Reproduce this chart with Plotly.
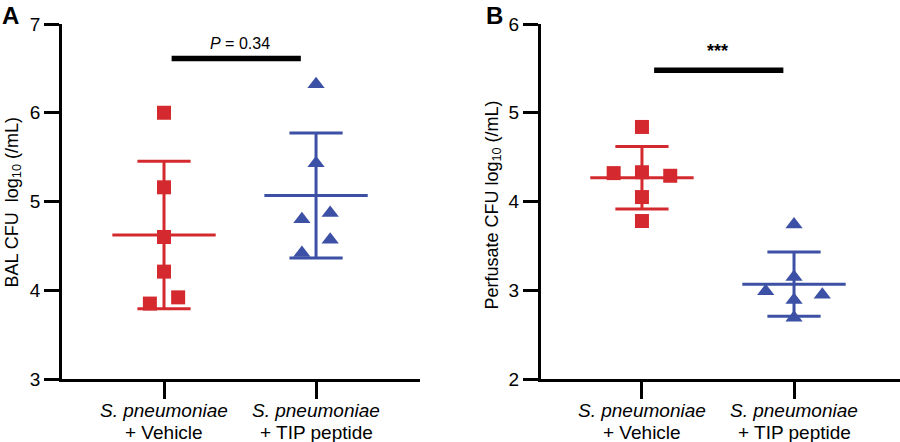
import numpy as np
import plotly.graph_objects as go

# ---------------- data ----------------
category_species = ["S. pneumoniae", "S. pneumoniae"]
category_treatment = ["+ Vehicle", "+ TIP peptide"]

# Panel A: BAL CFU log10 (/mL)
a_vehicle = [6.00, 5.16, 4.60, 4.21, 3.85, 3.92]
a_vehicle_jit = [0, 0, 0, 0, -1, 1]
a_tip = [6.32, 5.43, 4.80, 4.87, 4.57, 4.42]
a_tip_jit = [0, 0, -1, 1, 1, -1]
a_pvalue = "<i>P</i> = 0.34"
a_bar_y = 6.61

# Panel B: Perfusate CFU log10 (/mL)
b_vehicle = [4.84, 4.32, 4.33, 4.29, 4.05, 3.78]
b_vehicle_jit = [0, -2, 0, 2, 0, 0]
b_tip = [3.74, 3.15, 2.99, 2.95, 2.89, 2.69]
b_tip_jit = [0, 0, -2, 2, 0, 0]
b_sig = "***"
b_bar_y = 5.48

a_yticks = [3, 4, 5, 6, 7]
b_yticks = [2, 3, 4, 5, 6]

# ---------------- style ----------------
RED = "#d42a2f"
BLUE = "#3c50a5"
FONT = "Liberation Sans, Arial, sans-serif"
JIT = 0.093          # jitter step in category units
MEAN_HW = 0.34       # half-width of mean line
SD_HW = 0.175        # half-width of SD caps
LW = 3
H = 442

fig = go.Figure()


def add_group(xaxis, yaxis, xc, vals, jit, color, symbol, size):
    vals = np.array(vals, dtype=float)
    m = vals.mean()
    sd = vals.std(ddof=1)
    xs = [xc + j * JIT for j in jit]
    common = dict(xaxis=xaxis, yaxis=yaxis, showlegend=False, hoverinfo="skip")
    fig.add_trace(go.Scatter(x=[xc, xc], y=[m - sd, m + sd], mode="lines",
                             line=dict(color=color, width=LW), **common))
    for yv in (m - sd, m + sd):
        fig.add_trace(go.Scatter(x=[xc - SD_HW, xc + SD_HW], y=[yv, yv], mode="lines",
                                 line=dict(color=color, width=LW), **common))
    fig.add_trace(go.Scatter(x=[xc - MEAN_HW, xc + MEAN_HW], y=[m, m], mode="lines",
                             line=dict(color=color, width=LW), **common))
    fig.add_trace(go.Scatter(x=xs, y=vals, mode="markers",
                             marker=dict(color=color, symbol=symbol, size=size,
                                         line=dict(width=0)), **common))


add_group("x", "y", 0, a_vehicle, a_vehicle_jit, RED, "square", 14)
add_group("x", "y", 1, a_tip, a_tip_jit, BLUE, "triangle-up", 15)
add_group("x2", "y2", 0, b_vehicle, b_vehicle_jit, RED, "square", 14)
add_group("x2", "y2", 1, b_tip, b_tip_jit, BLUE, "triangle-up", 15)

fig.add_trace(go.Scatter(x=[0.05, 0.9], y=[a_bar_y, a_bar_y], mode="lines", xaxis="x", yaxis="y",
                         line=dict(color="black", width=5.5), showlegend=False, hoverinfo="skip"))
fig.add_trace(go.Scatter(x=[0.08, 0.93], y=[b_bar_y, b_bar_y], mode="lines", xaxis="x2", yaxis="y2",
                         line=dict(color="black", width=5.5), showlegend=False, hoverinfo="skip"))

axis_common = dict(showgrid=False, zeroline=False, showline=True, linecolor="black",
                   linewidth=LW, ticks="outside", tickcolor="black", tickwidth=LW,
                   automargin=False,
                   tickfont=dict(family=FONT, size=19, color="black"))

annotations = [
    dict(text="BAL CFU  log<sub>10</sub> (/mL)", textangle=-90, xref="paper", yref="paper",
         x=0, xanchor="left", y=1 - 203 / H, showarrow=False,
         font=dict(family=FONT, size=18, color="black")),
    dict(text="Perfusate CFU log<sub>10</sub> (/mL)", textangle=-90, xref="paper", yref="paper",
         x=479 / 900, xanchor="left", y=1 - 205 / H, showarrow=False,
         font=dict(family=FONT, size=18, color="black")),
    dict(text="<b>A</b>", xref="paper", yref="paper", x=0, y=1, xanchor="left", yanchor="top",
         showarrow=False, font=dict(family=FONT, size=24, color="black")),
    dict(text="<b>B</b>", xref="paper", yref="paper", x=484 / 900, y=1, xanchor="left",
         yanchor="top", showarrow=False, font=dict(family=FONT, size=24, color="black")),
    dict(text=a_pvalue, xref="x", yref="y", x=0.5, y=a_bar_y, yshift=5, yanchor="bottom",
         showarrow=False, font=dict(family=FONT, size=16, color="black")),
    dict(text="<b>" + b_sig + "</b>", xref="x2", yref="y2", x=0.5, y=b_bar_y, yshift=7,
         yanchor="bottom", showarrow=False, font=dict(family=FONT, size=18, color="black")),
]

# category labels (two lines under each tick)
for xref in ("x", "x2"):
    for i in range(len(category_species)):
        annotations.append(dict(text="<i>" + category_species[i] + "</i>", xref=xref, yref="paper",
                                x=i, y=1 - 410 / H, yanchor="middle", showarrow=False,
                                font=dict(family=FONT, size=19, color="black")))
        annotations.append(dict(text=category_treatment[i], xref=xref, yref="paper",
                                x=i, y=1 - 432 / H, yanchor="middle", showarrow=False,
                                font=dict(family=FONT, size=19, color="black")))

fig.update_layout(
    width=900, height=H,
    margin=dict(l=0, r=0, t=0, b=0, pad=0, autoexpand=False),
    showlegend=False,
    paper_bgcolor="white", plot_bgcolor="white",
    xaxis=dict(domain=[0.0689, 0.4667], range=[-0.671, 1.684], tickvals=[0, 1],
               showticklabels=False, ticklen=17, anchor="y", **axis_common),
    yaxis=dict(domain=[0.1425, 0.9457], range=[3, 7], tickvals=a_yticks, ticklen=15,
               anchor="x", **axis_common),
    xaxis2=dict(domain=[0.6011, 1.0], range=[-0.664, 1.697], tickvals=[0, 1],
                showticklabels=False, ticklen=17, anchor="y2", **axis_common),
    yaxis2=dict(domain=[0.1425, 0.9457], range=[2, 6], tickvals=b_yticks, ticklen=15,
                anchor="x2", **axis_common),
    annotations=annotations,
)

fig.write_html("out.html")
